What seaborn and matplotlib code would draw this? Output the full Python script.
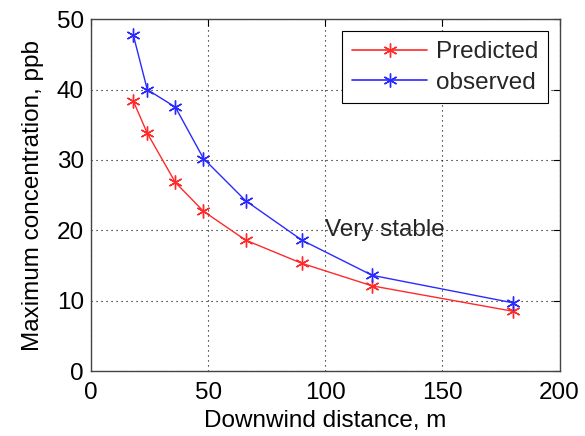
import numpy as np
import pandas as pd
import seaborn as sns
import matplotlib
matplotlib.use("Agg")
import matplotlib.pyplot as plt
from matplotlib.lines import Line2D

distance = [18, 24, 36, 48, 66, 90, 120, 180]
predicted = [38.4, 33.8, 26.8, 22.7, 18.6, 15.3, 12.1, 8.5]
observed = [47.8, 40.0, 37.5, 30.2, 24.2, 18.6, 13.6, 9.7]
series_names = ["Predicted", "observed"]
x_ticks = [0, 50, 100, 150, 200]
y_ticks = [0, 10, 20, 30, 40, 50]

df = pd.DataFrame({
    "distance": distance * 2,
    "conc": predicted + observed,
    "series": [series_names[0]] * len(distance) + [series_names[1]] * len(distance),
})

sns.set_theme(style="white")
plt.rcParams['font.family'] = ['Liberation Sans', 'DejaVu Sans']

FS = 17.5
colors = {"Predicted": "#ff2a2a", "observed": "#2a2aff"}
ast = (6, 2, 0)

fig = plt.figure(figsize=(5.85, 4.36), dpi=100)
ax = fig.add_axes([0.1556, 0.149, 0.801, 0.807])

for name in series_names:
    sub = df[df["series"] == name]
    sns.lineplot(data=sub, x="distance", y="conc", color=colors[name],
                 marker=ast, markersize=10, markeredgewidth=1.0,
                 markeredgecolor=colors[name], dashes=False, sort=False,
                 ax=ax, linewidth=1.0, label=name, legend=False)

ax.set_xlim(0, 200)
ax.set_ylim(0, 50)
ax.set_xticks(x_ticks)
ax.set_yticks(y_ticks)
ax.grid(True, linestyle=(0, (1, 3.5)), color='black', linewidth=0.8)
ax.tick_params(direction='in', length=5, top=True, right=True, labelsize=FS,
               colors='black', width=0.8)
ax.tick_params(axis='x', pad=8)
ax.tick_params(axis='y', pad=5)
for s in ax.spines.values():
    s.set_color('#444444')
    s.set_linewidth(1.0)
ax.set_xlabel("Downwind distance, m", fontsize=FS, color='black', labelpad=4)
ax.set_ylabel("Maximum concentration, ppb", fontsize=FS, color='black', labelpad=9)
ax.text(100, 20, "Very stable", fontsize=FS, va='center', ha='left')

handles = [Line2D([], [], color=colors[n], marker=ast, markersize=10,
                  markeredgewidth=1.0, markeredgecolor=colors[n], linewidth=1.2)
           for n in series_names]
leg = ax.legend(handles, series_names, loc='upper right', fontsize=FS, frameon=True,
                fancybox=False, edgecolor='black', framealpha=1,
                handlelength=3.1, handletextpad=0.35, borderpad=0.4,
                labelspacing=0.35, borderaxespad=0,
                bbox_to_anchor=(0.975, 0.965))
leg.get_frame().set_linewidth(0.8)

fig.savefig("out.png", dpi=100)
